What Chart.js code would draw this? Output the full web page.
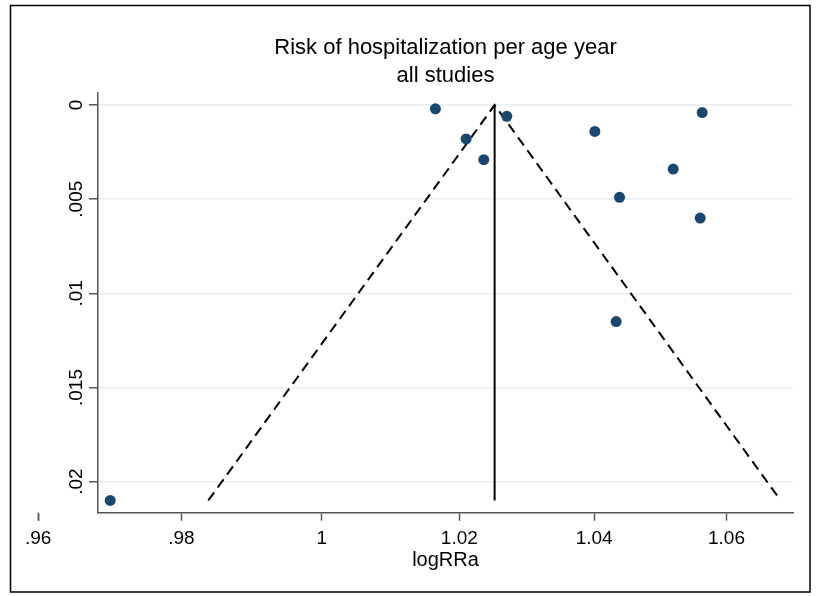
<!DOCTYPE html>
<html>
<head>
<meta charset="utf-8">
<title>Funnel plot</title>
<script src="https://cdn.jsdelivr.net/npm/chart.js@4"></script>
<style>
  html, body { margin: 0; padding: 0; background: #fff; }
  #wrap { width: 816px; height: 596px; }
</style>
</head>
<body>
<div id="wrap"><canvas id="funnel" width="816" height="596"></canvas></div>
<script>
// studies: relative risk per age year (x) and standard error (y)
const studyRR = [1.0165, 1.0210, 1.0236, 1.0270, 1.0401, 1.0563, 1.0519, 1.0438, 1.0560, 1.0433, 0.9700];
const studySE = [0.0002, 0.0018, 0.0029, 0.0006, 0.0014, 0.0004, 0.0034, 0.0049, 0.0060, 0.0115, 0.0210];

// pooled estimate + pseudo 95% limits
const pooledRR = 1.0252;
const funnelRR = [0.9838, 1.0252, 1.0683];
const funnelSE = [0.0210, 0, 0.0210];

const xTicks = [0.96, 0.98, 1, 1.02, 1.04, 1.06];
const yTicks = [0, 0.005, 0.01, 0.015, 0.02];

const FONT = "'Liberation Sans', Arial, Helvetica, sans-serif";
Chart.defaults.font.family = FONT;
Chart.defaults.color = '#000';

// stata style numbers: .98 instead of 0.98
function fmt(v) {
    const s = String(+Number(v).toFixed(4));
    return s.startsWith('0.') ? s.slice(1) : s;
}

// white background and outer frame
const frame = {
    id: 'frame',
    beforeDraw(chart) {
        const ctx = chart.ctx;
        ctx.save();
        ctx.fillStyle = '#fff';
        ctx.fillRect(0, 0, chart.width, chart.height);
        ctx.strokeStyle = '#000';
        ctx.lineWidth = 1.5;
        ctx.strokeRect(10.5, 5.5, 799.5, 586.5);
        ctx.restore();
    }
};

// vertical y labels + tick marks for x ticks outside the axis range
const axisExtras = {
    id: 'axisExtras',
    afterDraw(chart) {
        const ctx = chart.ctx;
        const y = chart.scales.y;
        const x = chart.scales.x;
        ctx.save();
        ctx.fillStyle = '#000';
        ctx.font = '19px ' + FONT;
        ctx.textAlign = 'center';
        ctx.textBaseline = 'alphabetic';
        yTicks.forEach(v => {
            ctx.save();
            ctx.translate(82, y.getPixelForValue(v));
            ctx.rotate(-Math.PI / 2);
            ctx.fillText(fmt(v), 0, 0);
            ctx.restore();
        });
        ctx.strokeStyle = '#555';
        ctx.lineWidth = 1.5;
        xTicks.forEach(v => {
            if (v >= x.min && v <= x.max) return;
            const px = Math.round(x.getPixelForValue(v)) + 0.5;
            ctx.beginPath();
            ctx.moveTo(px, x.top);
            ctx.lineTo(px, x.top + 8);
            ctx.stroke();
        });
        ctx.restore();
    }
};

new Chart(document.getElementById('funnel'), {
    type: 'scatter',
    data: {
        datasets: [
            {
                data: studyRR.map((rr, i) => ({ x: rr, y: studySE[i] })),
                backgroundColor: '#1a476f',
                borderColor: '#1a476f',
                borderWidth: 0,
                pointRadius: 5.5,
                pointHoverRadius: 5.5
            },
            {
                type: 'line',
                data: funnelRR.map((rr, i) => ({ x: rr, y: funnelSE[i] })),
                borderColor: '#000',
                borderWidth: 2,
                borderDash: [10, 6],
                pointRadius: 0,
                fill: false,
                tension: 0
            },
            {
                type: 'line',
                data: [{ x: pooledRR, y: 0 }, { x: pooledRR, y: funnelSE[0] }],
                borderColor: '#000',
                borderWidth: 2,
                pointRadius: 0,
                fill: false
            }
        ]
    },
    options: {
        responsive: false,
        animation: false,
        layout: { padding: { left: 0, right: 23, top: 10, bottom: 0 } },
        plugins: {
            legend: { display: false },
            tooltip: { enabled: false },
            title: {
                display: true,
                fullSize: false,
                text: ['Risk of hospitalization per age year', 'all studies'],
                color: '#000',
                font: { size: 22, weight: 'normal', lineHeight: 28 / 22 },
                padding: { top: 24, bottom: 3 }
            }
        },
        scales: {
            x: {
                type: 'logarithmic',
                min: 0.9683,
                max: 1.0702,
                afterBuildTicks: s => { s.ticks = xTicks.map(v => ({ value: v })); },
                afterFit: s => { s.height = 83.3; },
                ticks: {
                    autoSkip: false,
                    maxRotation: 0,
                    minRotation: 0,
                    padding: 7,
                    color: '#000',
                    font: { size: 19 },
                    callback: v => fmt(v)
                },
                grid: {
                    display: true,
                    drawOnChartArea: false,
                    drawTicks: true,
                    tickLength: 8,
                    tickColor: '#555',
                    tickWidth: 1.5
                },
                border: { color: '#555', width: 1.5 },
                title: {
                    display: true,
                    text: 'logRRa',
                    color: '#000',
                    font: { size: 20 },
                    padding: { top: 0, bottom: 24 }
                }
            },
            y: {
                type: 'linear',
                reverse: true,
                min: -0.00064,
                max: 0.02165,
                afterBuildTicks: s => { s.ticks = yTicks.map(v => ({ value: v })); },
                afterFit: s => { s.width = 98; },
                ticks: { display: false },
                grid: {
                    color: '#e6eef2',
                    lineWidth: 1.5,
                    drawTicks: true,
                    tickLength: 9,
                    tickColor: '#555',
                    tickWidth: 1.5
                },
                border: { color: '#555', width: 1.5 }
            }
        }
    },
    plugins: [frame, axisExtras]
});
</script>
</body>
</html>
